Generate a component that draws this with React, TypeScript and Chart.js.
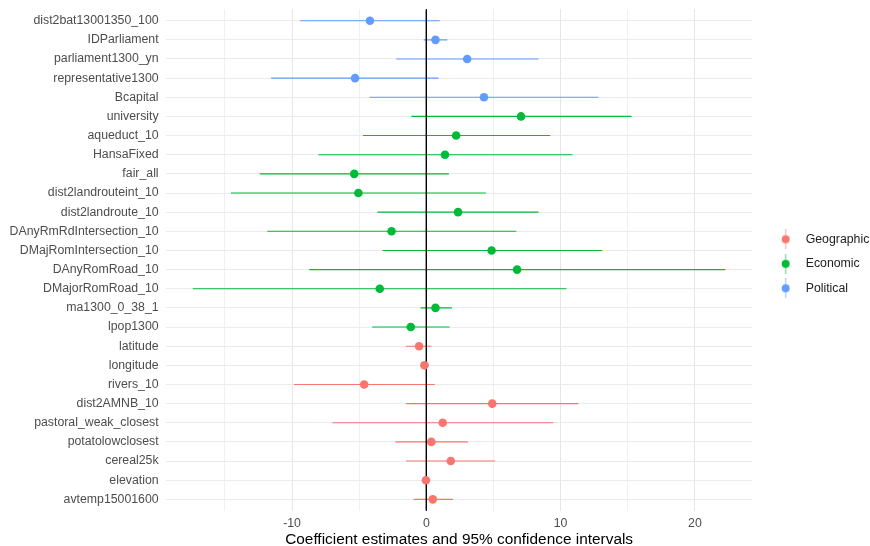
import React, { useEffect, useRef } from "react";
import { Chart, registerables } from "chart.js";

Chart.register(...registerables);

// ---------- data ----------
const terms = [
  "dist2bat13001350_100",
  "IDParliament",
  "parliament1300_yn",
  "representative1300",
  "Bcapital",
  "university",
  "aqueduct_10",
  "HansaFixed",
  "fair_all",
  "dist2landrouteint_10",
  "dist2landroute_10",
  "DAnyRmRdIntersection_10",
  "DMajRomIntersection_10",
  "DAnyRomRoad_10",
  "DMajorRomRoad_10",
  "ma1300_0_38_1",
  "lpop1300",
  "latitude",
  "longitude",
  "rivers_10",
  "dist2AMNB_10",
  "pastoral_weak_closest",
  "potatolowclosest",
  "cereal25k",
  "elevation",
  "avtemp15001600",
];

// 0 = Geographic, 1 = Economic, 2 = Political
const termGroup = [
  2, 2, 2, 2, 2,
  1, 1, 1, 1, 1, 1, 1, 1, 1, 1, 1, 1,
  0, 0, 0, 0, 0, 0, 0, 0, 0,
];

const estimates = [
  -4.2, 0.68, 3.04, -5.31, 4.29,
  7.05, 2.22, 1.39, -5.37, -5.06, 2.36, -2.59, 4.86, 6.76, -3.47, 0.68, -1.16,
  -0.54, -0.14, -4.63, 4.91, 1.22, 0.37, 1.82, -0.03, 0.48,
];

const lowerCI = [
  -9.4, -0.2, -2.24, -11.56, -4.23,
  -1.11, -4.72, -8.04, -12.41, -14.55, -3.64, -11.85, -3.27, -8.72, -17.39, -0.43, -4.03,
  -1.53, -0.45, -9.86, -1.51, -6.99, -2.3, -1.51, -0.18, -0.94,
];

const upperCI = [
  1.0, 1.56, 8.35, 0.91, 12.81,
  15.28, 9.23, 10.88, 1.68, 4.43, 8.35, 6.7, 13.1, 22.27, 10.43, 1.9, 1.73,
  0.37, 0.2, 0.63, 11.31, 9.46, 3.1, 5.11, 0.13, 1.99,
];

const groupNames = ["Geographic", "Economic", "Political"];
const groupColors = ["#F8766D", "#00BA38", "#619CFF"];

const xTickValues = [-15, -10, -5, 0, 5, 10, 15, 20];
const xTickLabels = ["", "-10", "", "0", "", "10", "", "20"];
const xTitle = "Coefficient estimates and 95% confidence intervals";

// ---------- helpers ----------
const FONT = "'Liberation Sans', Arial, Helvetica, sans-serif";

function makeLegendKey(color: string): HTMLCanvasElement {
  const c = document.createElement("canvas");
  c.width = 36;
  c.height = 20;
  const g = c.getContext("2d")!;
  const cx = 21.8;
  g.strokeStyle = color;
  g.globalAlpha = 0.55;
  g.lineWidth = 1.2;
  g.beginPath();
  g.moveTo(cx, 0);
  g.lineTo(cx, 20);
  g.stroke();
  g.globalAlpha = 1;
  g.fillStyle = color;
  g.beginPath();
  g.arc(cx, 10, 4, 0, Math.PI * 2);
  g.fill();
  return c;
}

export default function App() {
  const canvasRef = useRef<HTMLCanvasElement | null>(null);

  useEffect(() => {
    const canvas = canvasRef.current;
    if (!canvas) return;

    const dataMin = Math.min(...lowerCI, ...estimates);
    const dataMax = Math.max(...upperCI, ...estimates);
    const span = dataMax - dataMin;
    const xMin = dataMin - 0.05 * span;
    const xMax = dataMax + 0.05 * span;
    const yMin = -0.6;
    const yMax = terms.length - 1 + 0.6;

    const datasets: any[] = [];

    // points (top)
    groupNames.forEach((name, g) => {
      const pts: any[] = [];
      terms.forEach((_, i) => {
        if (termGroup[i] === g) pts.push({ x: estimates[i], y: i });
      });
      datasets.push({
        type: "scatter",
        label: name,
        data: pts,
        backgroundColor: groupColors[g],
        borderWidth: 0,
        pointRadius: 4.3,
        order: 0,
      });
    });

    // zero reference line
    datasets.push({
      type: "line",
      label: "zero",
      data: [
        { x: 0, y: yMin },
        { x: 0, y: yMax },
      ],
      borderColor: "#000000",
      borderWidth: 1,
      pointRadius: 0,
      order: 1,
    });

    // confidence intervals
    groupNames.forEach((name, g) => {
      const segs: any[] = [];
      terms.forEach((_, i) => {
        if (termGroup[i] === g) {
          segs.push({ x: lowerCI[i], y: i });
          segs.push({ x: upperCI[i], y: i });
          segs.push({ x: NaN, y: NaN });
        }
      });
      datasets.push({
        type: "line",
        label: name + " CI",
        data: segs,
        borderColor: groupColors[g],
        borderWidth: 1.1,
        pointRadius: 0,
        spanGaps: false,
        order: 2,
      });
    });

    const keys = groupColors.map((c) => makeLegendKey(c));

    const chart = new Chart(canvas, {
      type: "scatter",
      data: { datasets },
      options: {
        animation: false,
        responsive: false,
        events: [],
        layout: { padding: { left: 2, right: 0, top: 9.2, bottom: 0 } },
        plugins: {
          tooltip: { enabled: false },
          legend: {
            position: "right",
            align: "start",
            maxWidth: 118,
            title: {
              display: true,
              text: "",
              font: { size: 1, lineHeight: 1 },
              padding: { top: 0, bottom: 210.75 },
            },
            labels: {
              usePointStyle: true,
              pointStyleWidth: 35.35,
              padding: 12.2,
              color: "#222222",
              font: { family: FONT, size: 12.3 },
              generateLabels: () =>
                groupNames.map((n, k) => ({
                  text: n,
                  pointStyle: keys[k],
                  fillStyle: groupColors[k],
                  strokeStyle: groupColors[k],
                  lineWidth: 0,
                  hidden: false,
                  fontColor: "#222222",
                  datasetIndex: k,
                })),
            },
          },
        },
        scales: {
          x: {
            type: "linear",
            min: xMin,
            max: xMax,
            afterBuildTicks: (s: any) => {
              s.ticks = xTickValues.map((v) => ({ value: v }));
            },
            ticks: {
              autoSkip: false,
              maxRotation: 0,
              color: "#4D4D4D",
              font: { family: FONT, size: 12.3 },
              padding: 5.5,
              callback: (v: any) => {
                const k = xTickValues.indexOf(Number(v));
                return k >= 0 ? xTickLabels[k] : "";
              },
            },
            grid: {
              drawTicks: false,
              lineWidth: 1,
              color: (ctx: any) =>
                ctx.tick && ctx.tick.value % 10 === 0 ? "#E6E6E6" : "#F0F0F0",
            },
            border: { display: false },
            title: {
              display: true,
              text: xTitle,
              color: "#000000",
              font: { family: FONT, size: 15.4, lineHeight: 1 },
              padding: { top: -4.5, bottom: -1.5 },
            },
          },
          y: {
            type: "linear",
            reverse: true,
            min: yMin,
            max: yMax,
            afterBuildTicks: (s: any) => {
              s.ticks = terms.map((_, i) => ({ value: i }));
            },
            ticks: {
              autoSkip: false,
              color: "#4D4D4D",
              font: { family: FONT, size: 12.3, lineHeight: 0.1 },
              padding: 7.6,
              callback: (v: any) => terms[Number(v)] ?? "",
            },
            grid: {
              drawTicks: false,
              lineWidth: 1,
              color: "#EBEBEB",
            },
            border: { display: false },
          },
        },
      } as any,
    });

    return () => {
      chart.destroy();
    };
  }, []);

  return (
    <div style={{ position: "absolute", left: 0, top: 0, width: 870, height: 546, background: "#ffffff" }}>
      <canvas ref={canvasRef} width={870} height={546} style={{ display: "block" }} />
    </div>
  );
}
